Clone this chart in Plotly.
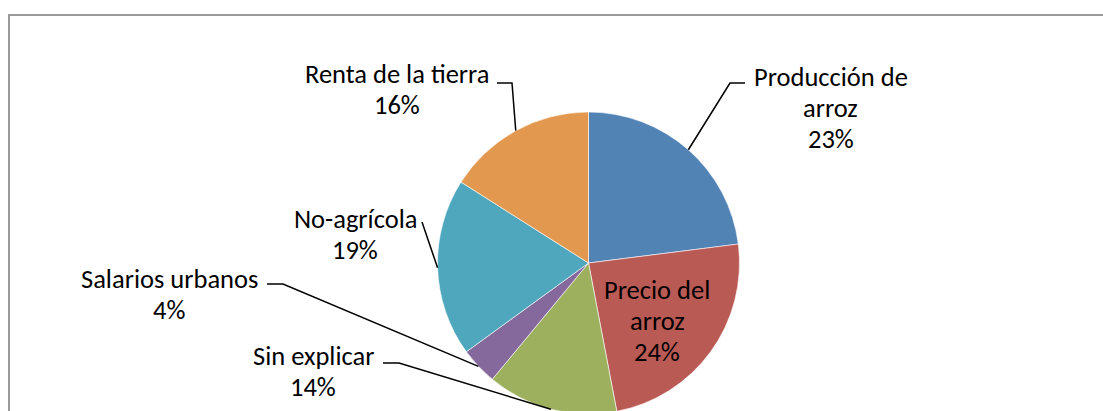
import math
import plotly.graph_objects as go

labels = ["Producción de arroz", "Precio del arroz", "Sin explicar",
          "Salarios urbanos", "No-agrícola", "Renta de la tierra"]
values = [23, 24, 14, 4, 19, 16]
colors = ["#5283B5", "#B95A55", "#9CB05E", "#85699C", "#4FA7BE", "#E3984F"]

# how each label is broken into lines, as in the original
label_lines = [["Producción de", "arroz"], ["Precio del", "arroz"], ["Sin explicar"],
               ["Salarios urbanos"], ["No-agrícola"], ["Renta de la tierra"]]

W, H = 1103, 416  # a little taller than the window so the pie runs off the bottom
CX, CY, R = 588.5, 263, 151  # pie centre and radius in pixels
FONT = "Carlito, Open Sans, sans-serif"
LINE_H = 31

# label placement (centre x, first line y) and leader stub points, pixels
label_pos = [(831, 77), (657, 290), (313, 356), (169, 279), (355, 219), (397, 74)]
stubs = [[(745, 83), (730, 83)], None, [(383, 363), (399, 363)],
         [(267, 284), (283, 284)], [(422, 222)], [(497, 83), (512, 83)]]


def px(x, y):
    return x / W, 1 - y / H


fig = go.Figure(go.Pie(
    labels=labels, values=values, sort=False, direction="clockwise", rotation=0,
    marker=dict(colors=colors, line=dict(color="white", width=0.6)),
    textinfo="none", hoverinfo="label+percent", showlegend=False,
    domain=dict(x=[(CX - R) / W, (CX + R) / W], y=[(H - CY - R) / H, (H - CY + R) / H]),
))

total = sum(values)
cum = 0
for i, v in enumerate(values):
    mid = (cum + v / 2) / total * 2 * math.pi
    cum += v
    pct = round(v / total * 100)
    lines = label_lines[i] + [f"{pct}%"]
    lx, ly = label_pos[i]
    for j, t in enumerate(lines):
        ax, ay = px(lx, ly + j * LINE_H)
        fig.add_annotation(x=ax, y=ay, xref="paper", yref="paper", text=t,
                           showarrow=False, xanchor="center", yanchor="middle",
                           font=dict(family=FONT, size=26.5, color="black"))
    if stubs[i]:
        ex = CX + R * math.sin(mid)
        ey = CY - R * math.cos(mid)
        pts = [px(x, y) for x, y in stubs[i]] + [px(ex, ey)]
        path = "M " + " L ".join(f"{x:.5f},{y:.5f}" for x, y in pts)
        fig.add_shape(type="path", path=path, xref="paper", yref="paper",
                      line=dict(color="black", width=1.5))

# chart area frame (top and left edges visible)
fr = [px(1110, 15), px(9, 15), px(9, 430)]
fig.add_shape(type="path", xref="paper", yref="paper",
              path="M " + " L ".join(f"{x:.5f},{y:.5f}" for x, y in fr),
              line=dict(color="#9a9a9a", width=2))

fig.update_layout(
    width=W, height=H,
    margin=dict(l=0, r=0, t=0, b=0),
    paper_bgcolor="white", plot_bgcolor="white",
)
fig.write_html("out.html", config={"displayModeBar": False},
               post_script="document.body.style.margin='0';"
                           "document.body.style.overflow='hidden';")
